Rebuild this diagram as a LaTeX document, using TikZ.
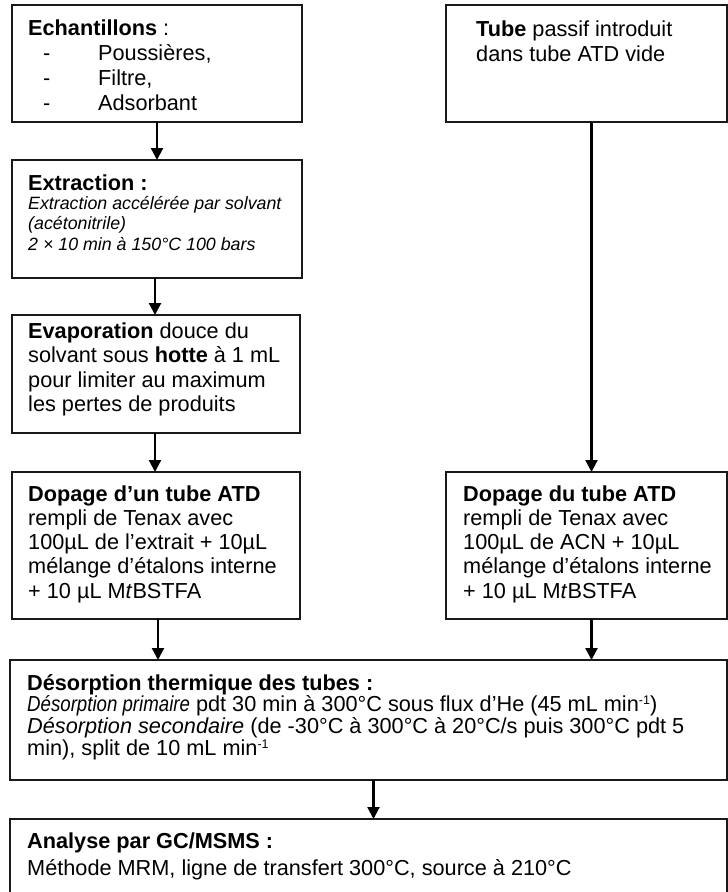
\documentclass[tikz,border=0pt]{standalone}
\usepackage{fontspec}
\usepackage{graphicx}
\setmainfont{Liberation Sans}
\usetikzlibrary{arrows.meta}
\newcommand{\supx}[1]{\raisebox{0.62ex}{\fontsize{12.5}{12.5}\selectfont #1}}
\begin{document}
\begin{tikzpicture}[x=1pt,y=1pt,
  box/.style={draw=black!90, line width=1.4pt, inner sep=0pt, outer sep=0pt, anchor=north west, rectangle},
  txt/.style={inner sep=0pt, anchor=north west, align=left, font=\fontsize{21.7}{#1}\selectfont},
  txt/.default={24.6},
  itxt/.style={inner sep=0pt, anchor=north west, align=left, font=\fontsize{17.8}{20.5}\selectfont\itshape},
  arr/.style={line width=2.2pt, -{Triangle[length=12pt,width=12pt]}}]
\clip (0,0) rectangle (728,-892);
\fill[white] (0,0) rectangle (728,-892);
% boxes
\node[box, minimum width=290pt, minimum height=117pt] (b1) at (12,-5) {};
\node[box, minimum width=290pt, minimum height=118pt] (b2) at (12,-160) {};
\node[box, minimum width=288pt, minimum height=118pt] (b3) at (12,-315) {};
\node[box, minimum width=288pt, minimum height=147pt] (b4) at (12,-472) {};
\node[box, minimum width=281pt, minimum height=117pt] (r1) at (446,-5) {};
\node[box, minimum width=281pt, minimum height=147pt] (r4) at (446,-472) {};
\node[box, minimum width=717pt, minimum height=120pt] (d) at (10,-660) {};
\node[box, minimum width=717pt, minimum height=90pt] (a) at (10,-819) {};
% texts
\node[txt={25}] (t1) at (28,-18) {\rule{0pt}{17pt}\textbf{Echantillons} :\\
\hspace*{15pt}\makebox[55pt][l]{-}Poussières,\\
\hspace*{15pt}\makebox[55pt][l]{-}Filtre,\\
\hspace*{15pt}\makebox[55pt][l]{-}Adsorbant};
\node[txt={25}] (tr1) at (476,-19) {\rule{0pt}{17pt}\textbf{Tube} passif introduit\\dans tube ATD vide};
\node[txt] (t2a) at (28,-173) {\rule{0pt}{17pt}\textbf{Extraction :}};
\node[itxt] (t2b) at (28,-195) {\rule{0pt}{14pt}Extraction accélérée par solvant\\(acétonitrile)\\2 × 10 min à 150°C 100 bars};
\node[txt={24.4}] (t3) at (28,-321) {\rule{0pt}{17pt}\textbf{Evaporation} douce du\\solvant sous \textbf{hotte} à 1 mL\\pour limiter au maximum\\les pertes de produits};
\node[txt={24.2}] (t4) at (28,-484) {\rule{0pt}{17pt}\textbf{Dopage d’un tube ATD}\\rempli de Tenax avec\\100µL de l’extrait + 10µL\\mélange d’étalons interne\\+ 10 µL M\textit{t}BSTFA};
\node[txt={24.2}] (tr4) at (463,-484) {\rule{0pt}{17pt}\textbf{Dopage du tube ATD}\\rempli de Tenax avec\\100µL de ACN + 10µL\\mélange d’étalons interne\\+ 10 µL M\textit{t}BSTFA};
\node[txt={21.7}] (t5) at (27,-673) {\rule{0pt}{17pt}\textbf{Désorption thermique des tubes :}\\
\scalebox{0.86}[1]{\textit{Désorption primaire}} pdt 30 min à 300°C sous flux d’He (45 mL min\supx{-1})\\
\textit{Désorption secondaire} (de -30°C à 300°C à 20°C/s puis 300°C pdt 5\\
min), split de 10 mL min\supx{-1}};
\node[txt={27}] (t6) at (27,-831) {\rule{0pt}{17pt}\textbf{Analyse par GC/MSMS :}\\Méthode MRM, ligne de transfert 300°C, source à 210°C};
% connectors
\draw[arr] (b1.south) -- (b2.north);
\draw[arr] ([xshift=-2pt]b2.south) -- ([xshift=-2pt]b2.south |- b3.north);
\draw[arr] ([xshift=-1pt]b3.south) -- ([xshift=-1pt]b3.south |- b4.north);
\draw[arr] ([xshift=5pt]r1.south) -- ([xshift=5pt]r4.north);
\draw[arr] ([xshift=2pt]b4.south) -- ([xshift=2pt]b4.south |- d.north);
\draw[arr] ([xshift=5pt]r4.south) -- ([xshift=5pt]r4.south |- d.north);
\draw[arr] ([xshift=5pt]d.south) -- ([xshift=5pt]d.south |- a.north);
\end{tikzpicture}
\end{document}
